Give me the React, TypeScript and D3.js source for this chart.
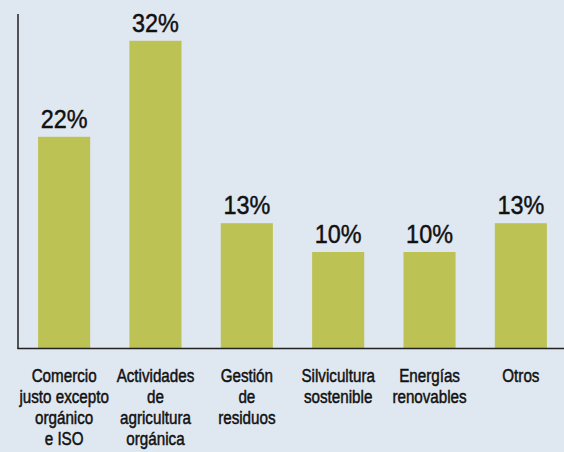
import React, { useRef, useEffect } from 'react'
import * as d3 from 'd3'

const categories = ['com', 'act', 'ges', 'sil', 'ene', 'otr']
const values = [22, 32, 13, 10, 10, 13]
const valueLabels = ['22%', '32%', '13%', '10%', '10%', '13%']
const categoryLines = [
  ['Comercio', 'justo excepto', 'orgánico', 'e ISO'],
  ['Actividades', 'de', 'agricultura', 'orgánica'],
  ['Gestión', 'de', 'residuos'],
  ['Silvicultura', 'sostenible'],
  ['Energías', 'renovables'],
  ['Otros'],
]

export default function App() {
  const svgRef = useRef<SVGSVGElement>(null)
  const width = 564
  const height = 452

  useEffect(() => {
    if (!svgRef.current) return
    const svg = d3.select(svgRef.current)
    svg.selectAll('*').remove()

    // background
    svg.append('rect')
      .attr('width', width)
      .attr('height', height)
      .attr('fill', '#dfe7f0')

    const x = d3.scaleBand()
      .domain(categories)
      .range([18, 567])
      .paddingInner(0.43)
      .paddingOuter(0.22)

    const y = d3.scaleLinear().domain([0, 35]).range([348, 12])
    const cx = (i: number) => x(categories[i])! + x.bandwidth() / 2

    svg.selectAll('rect.bar')
      .data(values)
      .enter()
      .append('rect')
      .attr('class', 'bar')
      .attr('x', (_, i) => x(categories[i])!)
      .attr('y', d => y(d))
      .attr('width', x.bandwidth())
      .attr('height', d => y(0) - y(d))
      .attr('fill', '#bcc254')

    // value labels above bars (condensed look via scaleX)
    svg.selectAll('text.val')
      .data(values)
      .enter()
      .append('text')
      .attr('class', 'val')
      .attr('transform', (d, i) => `translate(${cx(i)},${y(d) - 9}) scale(0.9,1)`)
      .attr('text-anchor', 'middle')
      .attr('font-family', 'Liberation Sans, Arial, sans-serif')
      .attr('font-size', '26px')
      .attr('fill', '#111')
      .attr('stroke', '#111')
      .attr('stroke-width', 0.45)
      .text((_, i) => valueLabels[i])

    // axes
    svg.append('line')
      .attr('x1', 18).attr('x2', 18)
      .attr('y1', y(34.8)).attr('y2', y(0) + 1)
      .attr('stroke', '#222')
      .attr('stroke-width', 1.5)

    svg.append('line')
      .attr('x1', 17.5).attr('x2', width)
      .attr('y1', y(0) + 0.5).attr('y2', y(0) + 0.5)
      .attr('stroke', '#222')
      .attr('stroke-width', 1.5)

    // category labels
    categoryLines.forEach((lines, i) => {
      const g = svg.append('g')
        .attr('transform', `translate(${cx(i)},0) scale(0.8,1)`)
      const t = g.append('text')
        .attr('text-anchor', 'middle')
        .attr('font-family', 'Liberation Sans, Arial, sans-serif')
        .attr('font-size', '19px')
        .attr('fill', '#111')
        .attr('stroke', '#111')
        .attr('stroke-width', 0.5)
      lines.forEach((line, j) => {
        t.append('tspan')
          .attr('x', 0)
          .attr('y', 382 + j * 21)
          .text(line)
      })
    })
  }, [])

  return (
    <div style={{ position: 'fixed', left: 0, top: 0 }}>
      <svg ref={svgRef} width={width} height={height} style={{ display: 'block' }} />
    </div>
  )
}
